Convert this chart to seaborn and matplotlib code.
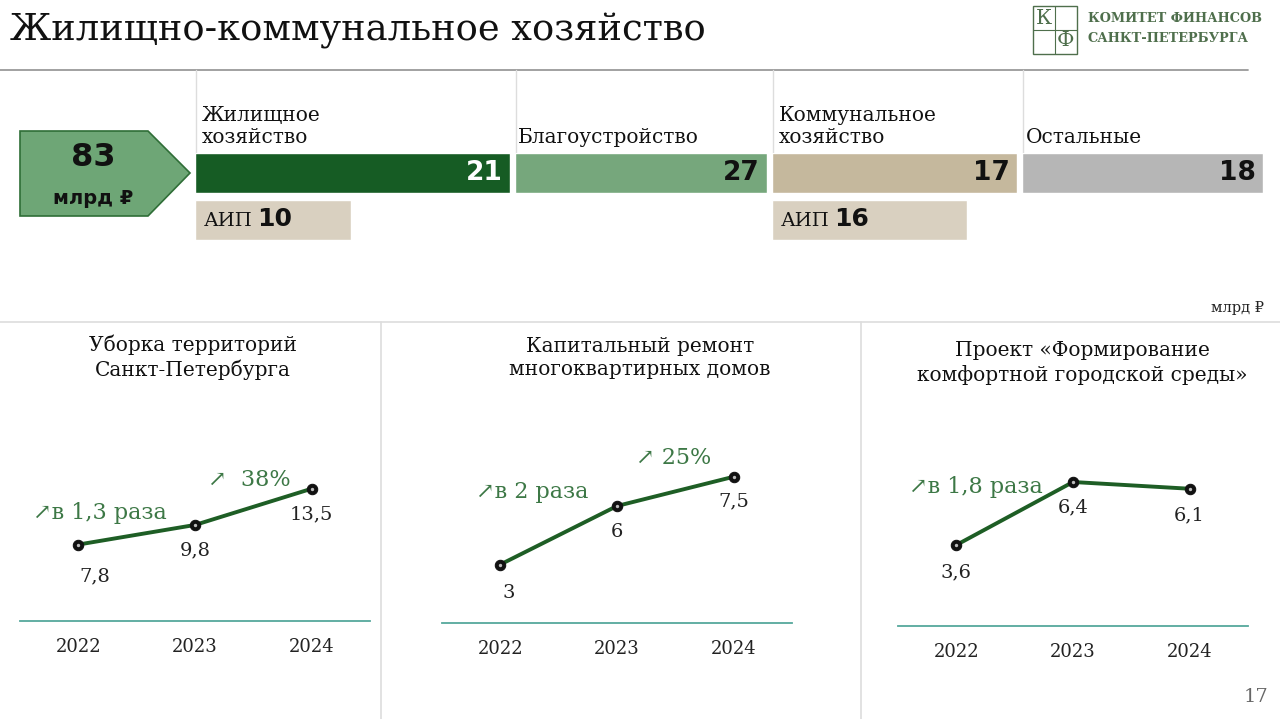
import numpy as np
import matplotlib
matplotlib.use('Agg')
import matplotlib.pyplot as plt
import seaborn as sns
from matplotlib.patches import Polygon, Rectangle

# data
title = 'Жилищно-коммунальное хозяйство'
total = 83
seg_names = ['Жилищное\nхозяйство', 'Благоустройство', 'Коммунальное\nхозяйство', 'Остальные']
seg_values = [21, 27, 17, 18]
aip_values = [10, None, 16, None]

years = ['2022', '2023', '2024']
panel_titles = ['Уборка территорий\nСанкт-Петербурга',
                'Капитальный ремонт\nмногоквартирных домов',
                'Проект «Формирование\nкомфортной городской среды»']
panel_values = [[7.8, 9.8, 13.5], [3, 6, 7.5], [3.6, 6.4, 6.1]]
growth_notes = [['↗в 1,3 раза', '↗  38%'], ['↗в 2 раза', '↗ 25%'], ['↗в 1,8 раза']]

sns.set_style('white')
SERIF = ['DejaVu Serif', 'DejaVu Sans']
SANS = ['DejaVu Sans']
plt.rcParams['font.family'] = SERIF

W, H = 1280, 719
NOTE = '#3d7846'
seg_colors = ['#165c24', '#76a77c', '#c5b89d', '#b6b6b6']
seg_text = ['white', '#111111', '#111111', '#111111']
AIP = '#d9d0c0'


def box(x0, y0, x1, y1):
    return [x0 / W, 1 - y1 / H, (x1 - x0) / W, (y1 - y0) / H]


def fmt(v):
    return f'{v:g}'.replace('.', ',')


fig = plt.figure(figsize=(12.8, 7.19), dpi=100)
bg = fig.add_axes([0, 0, 1, 1])
bg.set_xlim(0, W)
bg.set_ylim(H, 0)
bg.axis('off')

# header
bg.text(10, 31, title, fontsize=26.5, color='#111111', va='center', ha='left')
bg.plot([0, 1248], [70, 70], color='#9a9a9a', lw=1.3)

# logo
logo = '#4f6f4c'
bg.add_patch(Rectangle((1033, 6), 44, 48, fill=False, ec=logo, lw=1))
bg.plot([1055, 1055], [6, 54], color=logo, lw=0.8)
bg.plot([1033, 1077], [30, 30], color=logo, lw=0.8)
bg.text(1044, 18, 'К', fontsize=15, color=logo, ha='center', va='center')
bg.text(1066, 41, 'Ф', fontsize=15, color=logo, ha='center', va='center')
bg.text(1088, 19, 'КОМИТЕТ ФИНАНСОВ', fontsize=9.3, color=logo, weight='bold', va='center')
bg.text(1088, 38, 'САНКТ-ПЕТЕРБУРГА', fontsize=9.3, color=logo, weight='bold', va='center')

# total arrow
bg.add_patch(Polygon([(20, 131), (148, 131), (190, 173), (148, 216), (20, 216)],
                     closed=True, fc='#6ea676', ec='#2f6e37', lw=1.2))
bg.text(93, 158, str(total), fontsize=23, weight='bold', family=SANS, ha='center', va='center', color='#111111')
bg.text(93, 199, 'млрд ₽', fontsize=14, weight='bold', family=SANS, ha='center', va='center', color='#111111')

# segment bars
seg_x = [(195, 510), (515, 767), (772, 1017), (1022, 1263)]
aip_x = [(195, 351), None, (772, 967), None]
name_dx = [7, 3, 7, 4]
for i, (name, val) in enumerate(zip(seg_names, seg_values)):
    x0, x1 = seg_x[i]
    bg.plot([x0 + 1, x0 + 1], [70, 153], color='#dddddd', lw=1)
    bg.text(x0 + name_dx[i], 143, name, fontsize=14.5, va='baseline', ha='left',
            color='#111111', linespacing=1.2)
    ax = fig.add_axes(box(x0, 153, x1, 193))
    ax.barh([0], [val], color=seg_colors[i], height=1)
    ax.set_xlim(0, val)
    ax.set_ylim(-0.5, 0.5)
    ax.axis('off')
    ax.annotate(str(val), (val, 0), xytext=(-5, 0), textcoords='offset points',
                fontsize=19, weight='bold', family=SANS,
                ha='right', va='center', color=seg_text[i])
    if aip_values[i] is not None:
        a0, a1 = aip_x[i]
        axa = fig.add_axes(box(a0, 200, a1, 240))
        axa.barh([0], [aip_values[i]], color=AIP, height=1)
        axa.set_xlim(0, aip_values[i])
        axa.set_ylim(-0.5, 0.5)
        axa.axis('off')
        axa.annotate('АИП', (0, 0), xytext=(6, -1), textcoords='offset points',
                     fontsize=14, va='center', ha='left', color='#111111')
        axa.annotate(str(aip_values[i]), (0, 0), xytext=(45, 1), textcoords='offset points',
                     fontsize=18, weight='bold', family=SANS,
                     va='center', ha='left', color='#111111')

bg.text(1264, 308, 'млрд ₽', fontsize=10.5, ha='right', va='center', color='#222222')
bg.plot([0, W], [322, 322], color='#dddddd', lw=1.2)
for xv in [381, 861]:
    bg.plot([xv, xv], [322, H], color='#dddddd', lw=1.2)

# line panels
panel_box = [(20, 420, 370, 621), (442, 420, 792, 623), (898, 420, 1248, 626)]
panel_scale = [9.8, 19.5, 22.5]  # px per unit
title_pos = [(193, 357), (640, 358), (1082, 363)]
label_off = [[(16, 32), (0, 25), (0, 26)], [(8, 29), (0, 26), (0, 25)], [(0, 27), (0, 25), (0, 27)]]
note_pos = [[(33, 513), (208, 480)], [(476, 492), (636, 458)], [(909, 487)]]

for p in range(3):
    x0, y0, x1, y1 = panel_box[p]
    ax = fig.add_axes(box(x0, y0, x1, y1))
    vals = panel_values[p]
    xs = np.arange(len(years))
    sns.lineplot(x=xs, y=vals, ax=ax, color='#1e5e25', linewidth=2.8,
                 marker='o', markersize=7.5, markerfacecolor='#111111',
                 markeredgecolor='#111111', clip_on=False)
    ax.scatter(xs, vals, s=2, color='#bbbbbb', zorder=5, clip_on=False)
    ax.set_xlim(-0.5, 2.5)
    ax.set_ylim(0, (y1 - y0) / panel_scale[p])
    ax.set_xticks(xs)
    ax.set_xticklabels(years, fontsize=13, color='#222222')
    ax.tick_params(axis='x', length=0, pad=12)
    ax.set_yticks([])
    ax.set_xlabel('')
    ax.set_ylabel('')
    for s in ['top', 'left', 'right']:
        ax.spines[s].set_visible(False)
    ax.spines['bottom'].set_color('#55a89c')
    ax.spines['bottom'].set_linewidth(1.3)
    ax.patch.set_alpha(0)
    for i, v in enumerate(vals):
        dx, dy = label_off[p][i]
        ax.annotate(fmt(v), (i, v), xytext=(dx * 0.72, -dy * 0.72), textcoords='offset points',
                    ha='center', va='center', fontsize=14, color='#222222')
    tx, ty = title_pos[p]
    bg.text(tx, ty, panel_titles[p], fontsize=14.5, ha='center', va='center',
            color='#111111', linespacing=1.3)
    for note, (nx, ny) in zip(growth_notes[p], note_pos[p]):
        bg.text(nx, ny, note, fontsize=16, ha='left', va='center', color=NOTE)

bg.text(1268, 697, '17', fontsize=14, ha='right', va='center', color='#666666')

fig.savefig('out.png', dpi=100)
